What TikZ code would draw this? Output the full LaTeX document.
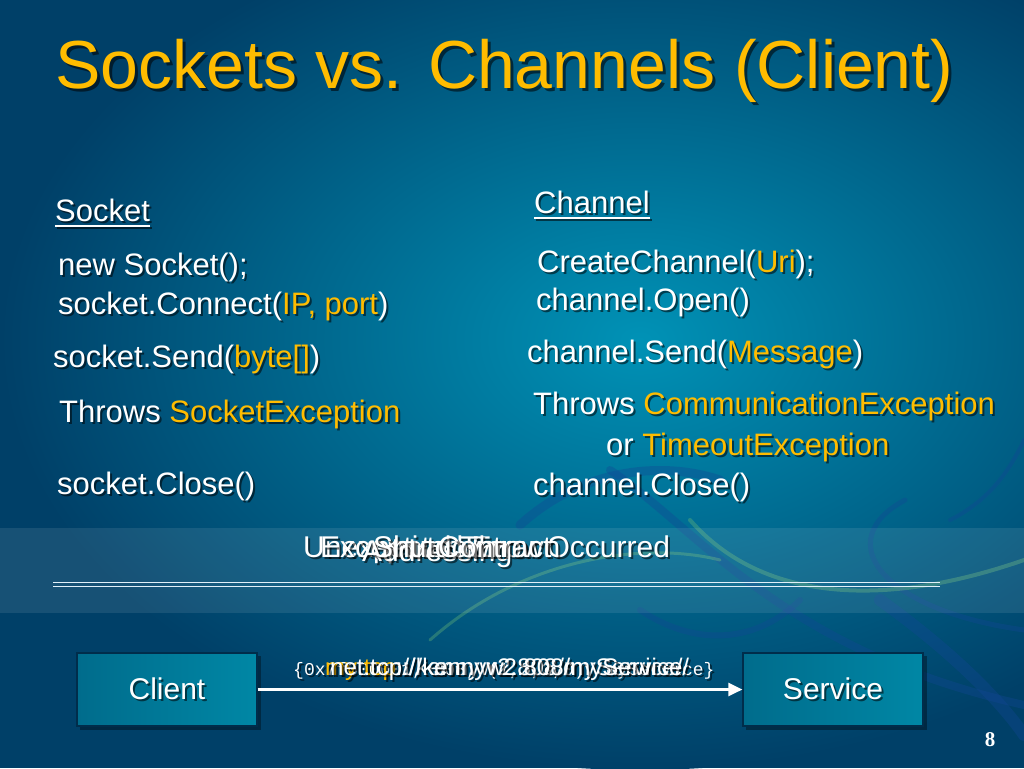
\documentclass[tikz,border=0pt]{standalone}
\usepackage{fontspec}
\setmainfont{Liberation Sans}
\newfontfamily\serifbold{Liberation Serif}
\newfontfamily\monofont{Liberation Mono}
\usetikzlibrary{calc,arrows.meta}
\definecolor{hlorange}{RGB}{255,188,0}
\definecolor{bgdark}{RGB}{0,64,104}
\definecolor{bglight}{RGB}{0,146,182}
\definecolor{swirlblue}{RGB}{20,70,150}
\definecolor{swirlgreen}{RGB}{110,190,120}
\definecolor{boxleft}{RGB}{0,108,140}
\definecolor{boxright}{RGB}{0,135,165}
\definecolor{boxborder}{RGB}{0,45,75}
\definecolor{rulecol}{RGB}{225,240,250}
\colorlet{hl}{hlorange}
\newcommand\hl[1]{{\color{hl}#1}}
\newcommand\bodyfont{\fontsize{31}{37}\selectfont}
\newcommand\stext[4]{%
  \node[txtshadow,#3] at ($(#2)+(2,2)$) {#4};
  \node[txtmain,#3] (#1) at (#2) {#4};}
\tikzset{
  txtmain/.style={inner sep=0pt, text=white, font=\bodyfont},
  txtshadow/.style={inner sep=0pt, text=black, opacity=0.55, font=\bodyfont,
    execute at begin node={\colorlet{hl}{black}}},
  lw/.style={anchor=base west},
  boxnode/.style={draw=boxborder, line width=1.2pt, left color=boxleft, right color=boxright,
    minimum width=180pt, minimum height=73pt, inner sep=0pt},
  swirl/.style={line cap=round, opacity=0.35},
}
\begin{document}
\begin{tikzpicture}[x=1pt,y=-1pt]
\useasboundingbox (0,0) rectangle (1024,768);
% background
\fill[bgdark] (0,0) rectangle (1024,768);
\begin{scope}
\clip (0,0) rectangle (1024,768);
\shade[inner color=bglight, outer color=bgdark] (640,340) ellipse [x radius=640, y radius=430];
% swirls
\draw[swirl, swirlblue, line width=9pt] (520,525) .. controls (580,470) and (660,460) .. (720,480);
\draw[swirl, swirlblue, line width=8pt] (610,470) .. controls (700,530) and (780,650) .. (1024,705);
\draw[swirl, swirlblue, line width=5pt] (905,500) .. controls (830,540) and (880,610) .. (1024,630);
\draw[swirl, swirlgreen, line width=4pt] (690,520) .. controls (760,600) and (880,610) .. (1024,560);
\draw[swirl, swirlgreen, line width=3pt] (430,640) .. controls (520,560) and (640,540) .. (720,560);
\draw[swirl, swirlblue, line width=12pt] (880,600) .. controls (950,650) and (1000,700) .. (1024,735);
\draw[swirl, swirlblue, line width=4pt] (950,520) .. controls (990,500) and (1010,470) .. (1024,440);
\draw[swirl, swirlblue, line width=6pt] (640,610) .. controls (700,650) and (760,640) .. (800,600);
\end{scope}
% band
\fill[white, opacity=0.09] (0,528) rectangle (1024,613);
% title
\node[txtshadow, lw, font=\fontsize{68}{80}\selectfont] at (58,91) {Sockets vs. Channels (Client)};
\node[txtmain, lw, text=hlorange, font=\fontsize{68}{80}\selectfont] (title) at (55,88) {Sockets vs. Channels (Client)};
% left column
\stext{sock}{55,221}{lw}{Socket}
\draw[black, opacity=0.55, line width=2pt] ($(sock.base west)+(2,7)$) -- ($(sock.base east)+(2,7)$);
\draw[white, line width=2pt] ($(sock.base west)+(0,5)$) -- ($(sock.base east)+(0,5)$);
\stext{l1}{58,275}{lw}{new Socket();}
\stext{l2}{58,314}{lw}{socket.Connect(\hl{IP, port})}
\stext{l3}{53,367}{lw}{socket.Send(\hl{byte[]})}
\stext{l4}{59,422}{lw}{Throws \hl{SocketException}}
\stext{l5}{57,494}{lw}{socket.Close()}
% right column
\stext{chan}{534,213}{lw}{Channel}
\draw[black, opacity=0.55, line width=2pt] ($(chan.base west)+(2,7)$) -- ($(chan.base east)+(2,7)$);
\draw[white, line width=2pt] ($(chan.base west)+(0,5)$) -- ($(chan.base east)+(0,5)$);
\stext{r1}{537,272}{lw}{CreateChannel(\hl{Uri});}
\stext{r2}{536,310}{lw}{channel.Open()}
\stext{r3}{527,362}{lw}{channel.Send(\hl{Message})}
\stext{r4}{533,414}{lw}{Throws \hl{CommunicationException}}
\stext{r5}{606,455}{lw}{or \hl{TimeoutException}}
\stext{r6}{533,495}{lw}{channel.Close()}
% overlapping band texts
\tikzset{bandtxt/.style={lw, font=\fontsize{30}{36}\selectfont}}
\stext{b1}{303,557}{bandtxt}{Unexpected Error Occurred}
\stext{b2}{320,557}{bandtxt}{Exception Thrown}
\stext{b3}{362,561}{bandtxt}{Addressing}
\stext{b4}{373,557}{bandtxt}{Shutdown}
\stext{b5}{438,557}{bandtxt}{Contract}
% double rule
\draw[rulecol, line width=1.5pt] (53,582.5) -- (940,582.5);
\draw[rulecol, line width=1.5pt] (53,586.5) -- (940,586.5);
% boxes
\fill[black, opacity=0.35] (80,656) rectangle (261,730);
\fill[black, opacity=0.35] (746,656) rectangle (927,730);
\node[boxnode] (client) at (167,689.5) {};
\node[boxnode] (service) at (833,689.5) {};
\stext{clientlbl}{client.center}{font=\fontsize{30}{36}\selectfont, yshift=1pt}{Client}
\stext{servicelbl}{service.center}{font=\fontsize{30}{36}\selectfont, yshift=1pt}{Service}
% arrow
\draw[white, line width=2.5pt, -{Triangle[length=14pt,width=13pt]}] (client.east) -- (service.west);
% arrow labels
\stext{a1}{293,675}{lw, font=\fontsize{18}{22}\monofont}{\{0x7f000001, 808, (1,2,3,0), myService\}}
\stext{a2}{325,675}{lw, font=\fontsize{24}{28}\selectfont}{\hl{my}.\hl{tcp}://kennyw2:808/myService/}
\stext{a3}{330,675}{lw, font=\fontsize{24}{28}\selectfont}{net.tcp://kennyw2:808/myService/}
% page number
\node[txtmain, anchor=base, font=\fontsize{21}{24}\serifbold\bfseries] (pnum) at (990,746) {8};
\end{tikzpicture}
\end{document}
